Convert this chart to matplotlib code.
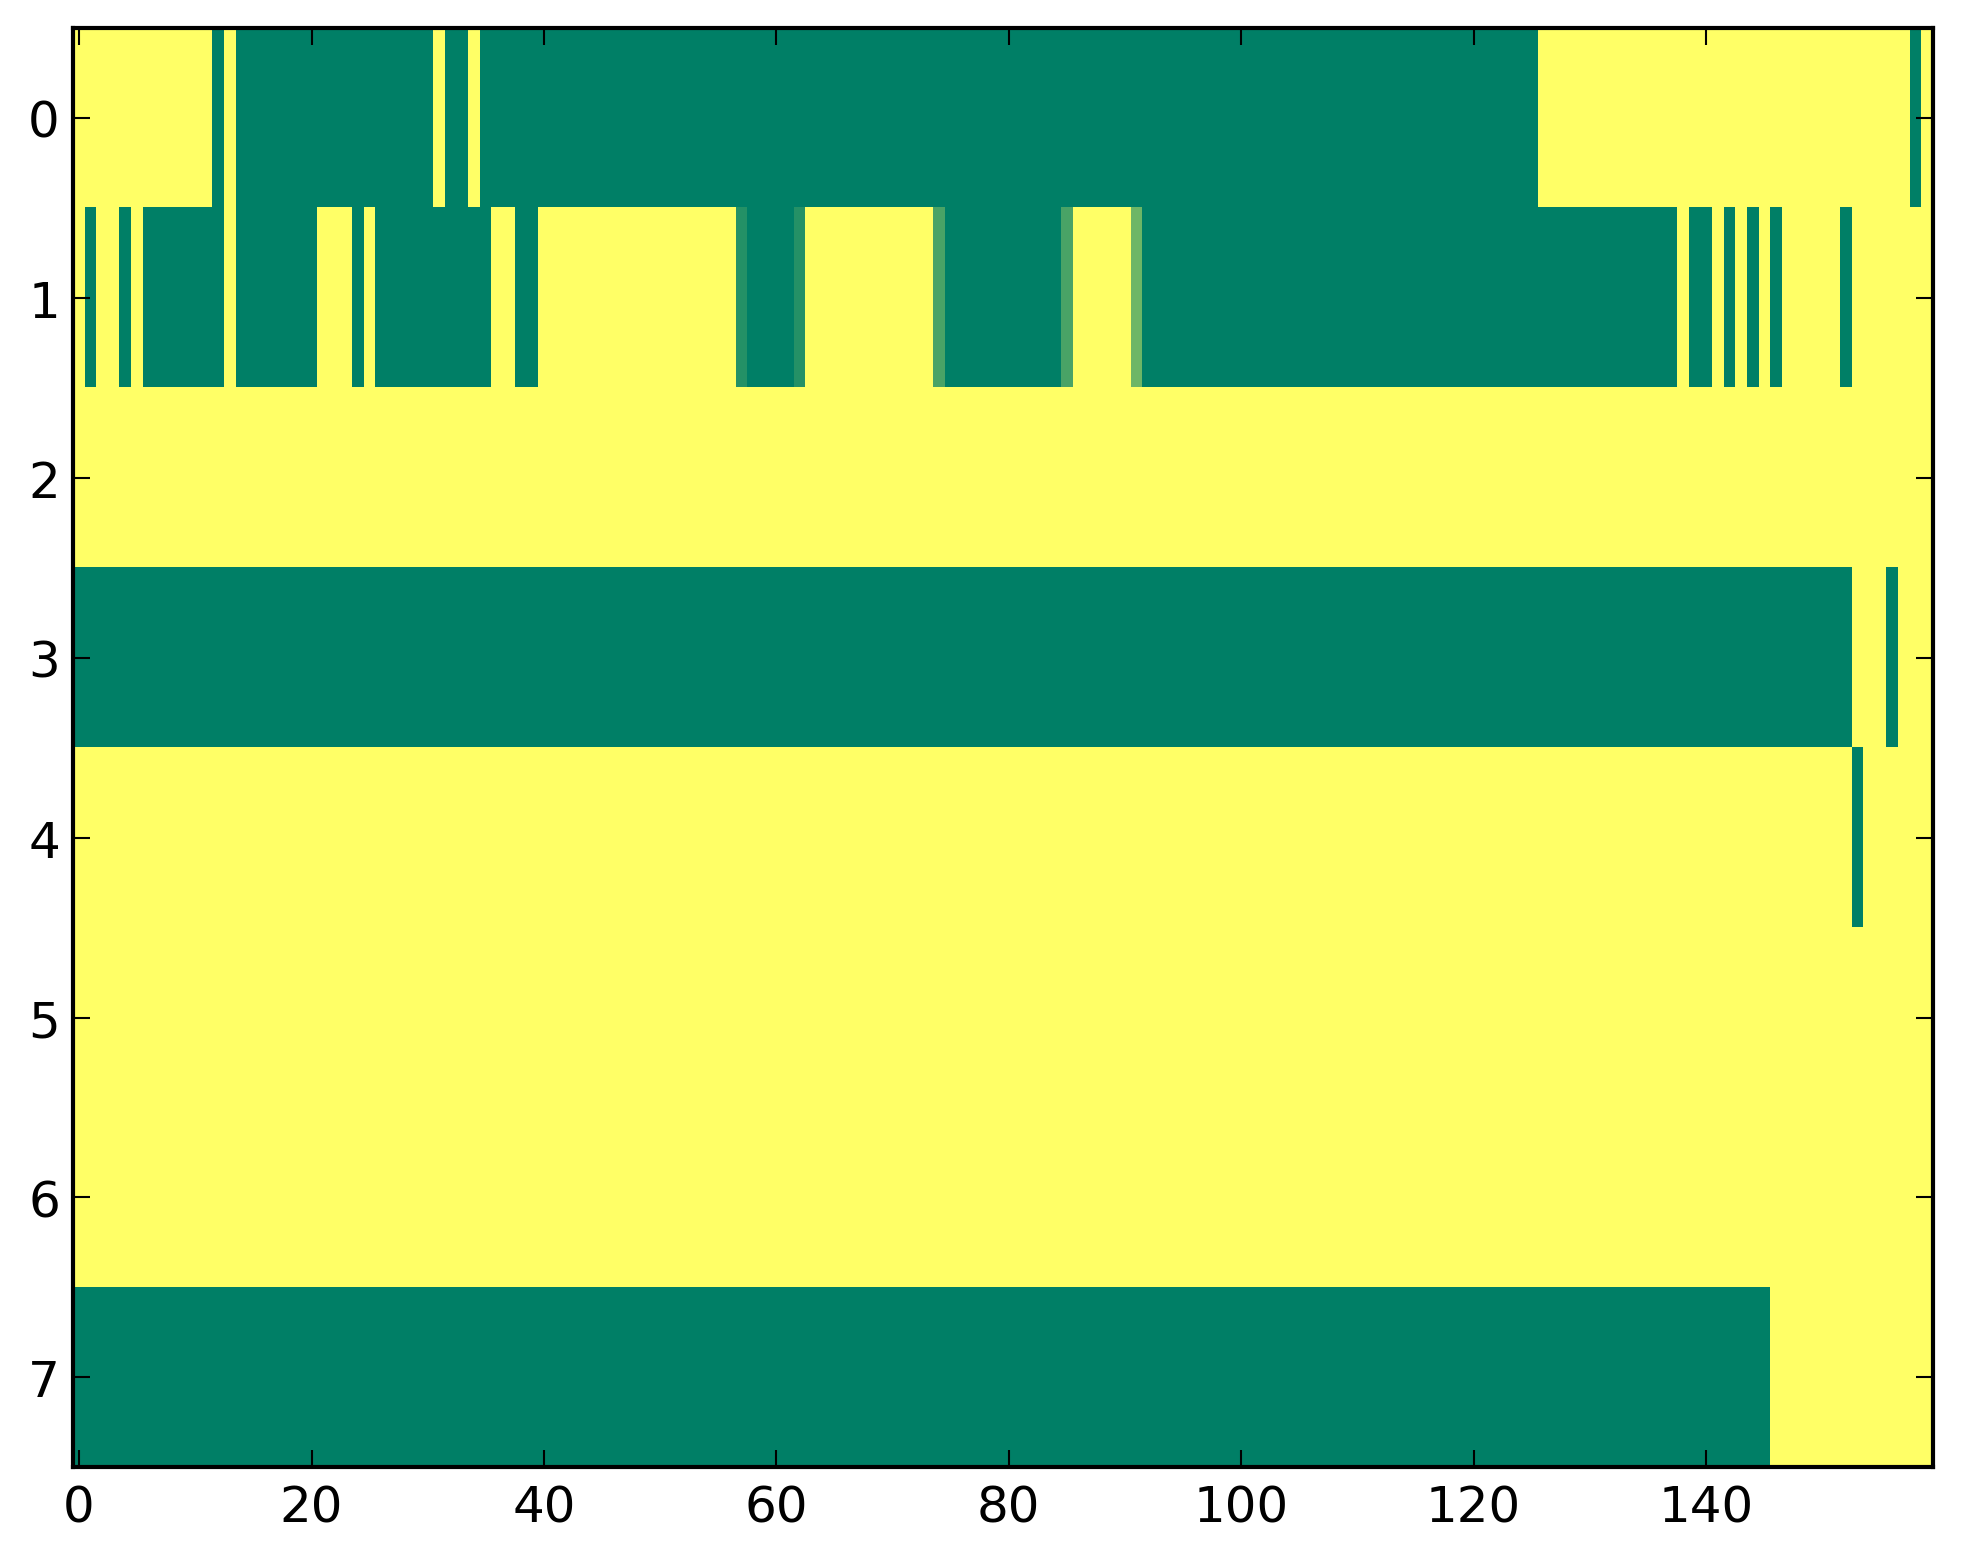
import numpy as np
import matplotlib
matplotlib.use("Agg")
import matplotlib.pyplot as plt

n_cols = 160
row_labels = [0, 1, 2, 3, 4, 5, 6, 7]
x_ticks = [0, 20, 40, 60, 80, 100, 120, 140]

# runs per row: (first column, last column, value)
row0 = [(0, 11, 1), (12, 12, 0), (13, 13, 1), (14, 30, 0), (31, 31, 1),
        (32, 33, 0), (34, 34, 1), (35, 125, 0), (126, 157, 1), (158, 158, 0),
        (159, 159, 1)]
row1 = [(0, 0, 1), (1, 1, 0), (2, 3, 1), (4, 4, 0), (5, 5, 1), (6, 12, 0),
        (13, 13, 1), (14, 20, 0), (21, 23, 1), (24, 24, 0), (25, 25, 1),
        (26, 35, 0), (36, 37, 1), (38, 39, 0), (40, 56, 1), (57, 57, 1 / 7),
        (58, 61, 0), (62, 62, 1 / 7), (63, 73, 1), (74, 74, 2 / 7),
        (75, 84, 0), (85, 85, 2 / 7), (86, 90, 1), (91, 91, 3 / 7),
        (92, 137, 0), (138, 138, 1), (139, 140, 0), (141, 141, 1),
        (142, 142, 0), (143, 143, 1), (144, 144, 0), (145, 145, 1),
        (146, 146, 0), (147, 151, 1), (152, 152, 0), (153, 159, 1)]
row2 = [(0, 159, 1)]
row3 = [(0, 152, 0), (153, 155, 1), (156, 156, 0), (157, 159, 1)]
row4 = [(0, 152, 1), (153, 153, 0), (154, 159, 1)]
row5 = [(0, 159, 1)]
row6 = [(0, 159, 1)]
row7 = [(0, 145, 0), (146, 159, 1)]
rows = [row0, row1, row2, row3, row4, row5, row6, row7]

data = np.ones((len(rows), n_cols))
for r, runs in enumerate(rows):
    for a, b, v in runs:
        data[r, a:b + 1] = v

plt.rcParams['font.family'] = ['DejaVu Sans']
fig = plt.figure(figsize=(1963 / 300, 1564 / 300), dpi=300, facecolor='white')
ax = fig.add_axes([73.3 / 1963, 1 - 1468.3 / 1564, (1932.7 - 73.3) / 1963, (1468.3 - 29) / 1564])
ax.imshow(data, cmap='summer', vmin=0, vmax=1, aspect='auto', interpolation='nearest')
ax.set_xticks(x_ticks)
ax.set_yticks(row_labels)
ax.tick_params(direction='in', top=True, right=True, length=4, width=0.5,
               labelsize=12)
ax.tick_params(axis='x', pad=4)
ax.tick_params(axis='y', pad=3.2)
for s in ax.spines.values():
    s.set_linewidth(1.0)
fig.savefig('out.png', dpi=300, facecolor='white')
